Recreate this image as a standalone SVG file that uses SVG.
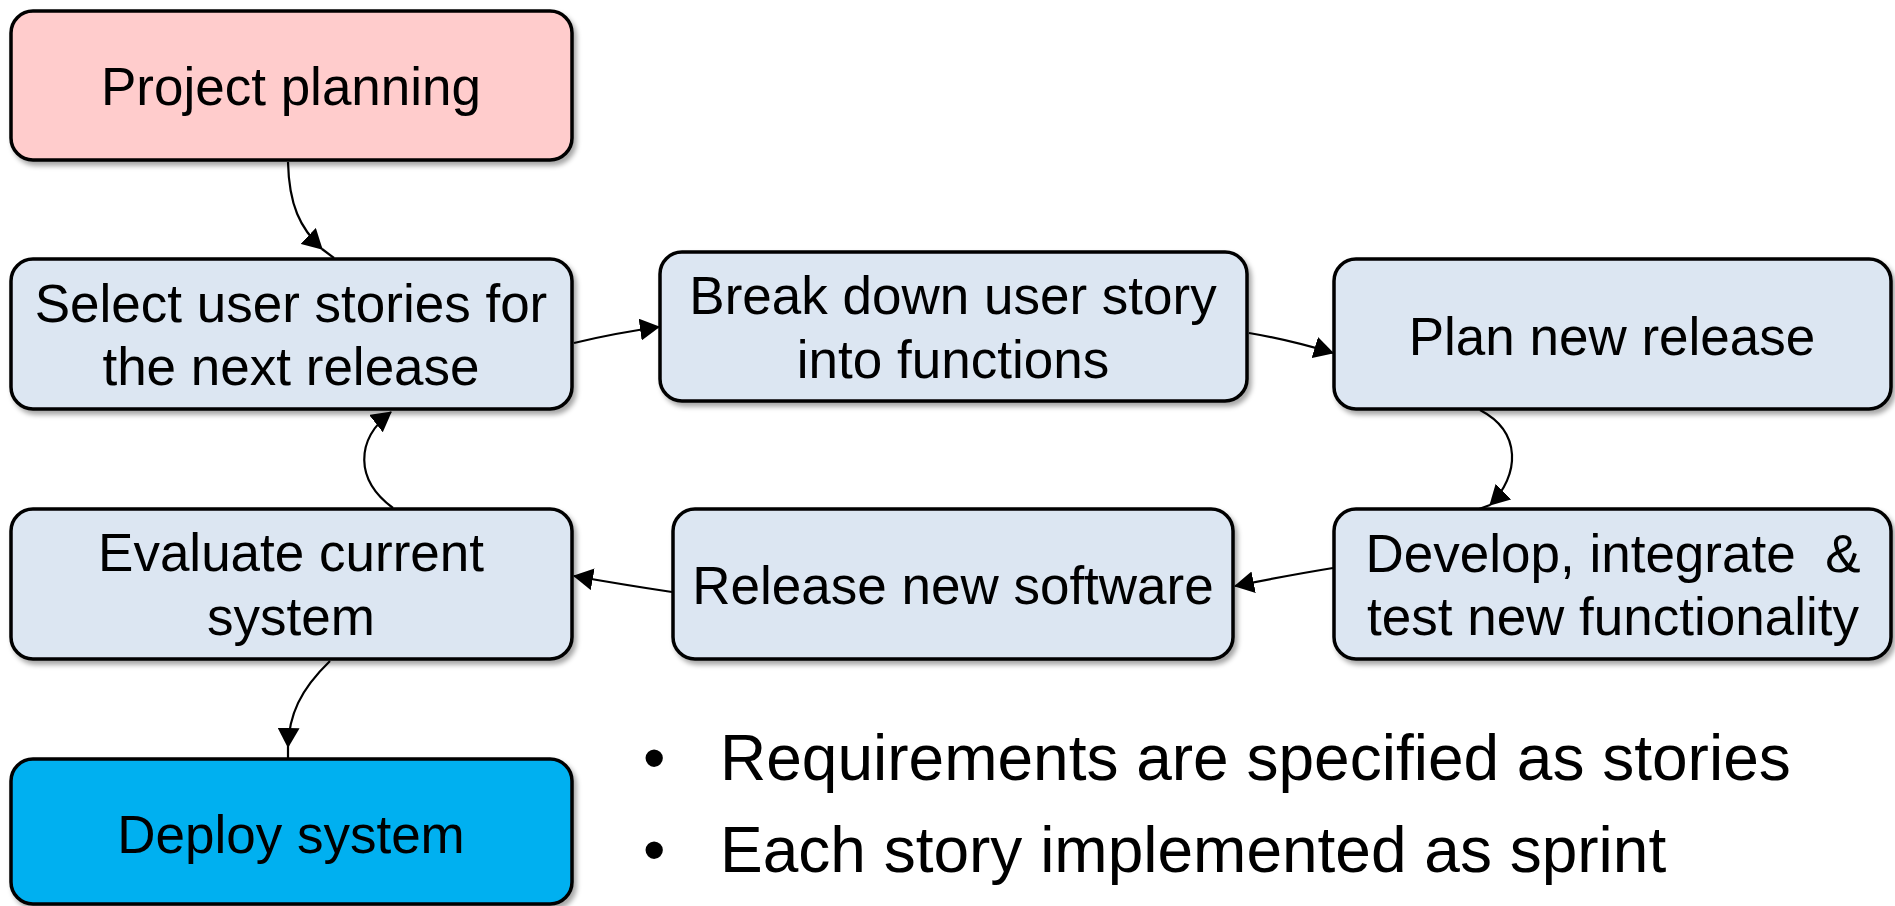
<svg xmlns="http://www.w3.org/2000/svg" width="1895" height="906" viewBox="0 0 1895 906">
<style>
.box{stroke:#000;stroke-width:3.5}
.blue{fill:#DCE6F2}
.pink{fill:#FFCCCC}
.deploy{fill:#00B0F0}
.lbl{font-family:"Liberation Sans",Arial,sans-serif;font-size:53px;fill:#000;text-anchor:middle}
.bul{font-family:"Liberation Sans",Arial,sans-serif;font-size:64px;fill:#000}
.con{fill:none;stroke:#000;stroke-width:2.2}
</style>
<defs>
<filter id="sh" x="-5%" y="-5%" width="115%" height="120%">
<feDropShadow dx="3" dy="4" stdDeviation="2.5" flood-color="#000" flood-opacity="0.35"/>
</filter>
<marker id="ah" markerUnits="userSpaceOnUse" markerWidth="20" markerHeight="22" viewBox="0 0 20 22" refX="19" refY="11" orient="auto">
<path d="M0,0 L20,11 L0,22 z" fill="#000"/>
</marker>
</defs>
<rect width="1895" height="906" fill="#fff"/>
<g id="connectors">
<path class="con" d="M288,162 C289,205 300,228 322,249" marker-end="url(#ah)"/>
<path class="con" d="M322,249 L334,258"/>
<path class="con" d="M574,343 Q615,333 659,327" marker-end="url(#ah)"/>
<path class="con" d="M1249,333 Q1290,340 1333,353" marker-end="url(#ah)"/>
<path class="con" d="M1480,410 C1522,432 1520,475 1490,505" marker-end="url(#ah)"/>
<path class="con" d="M1490,505 L1479,509"/>
<path class="con" d="M1333,568 Q1290,575 1235,586" marker-end="url(#ah)"/>
<path class="con" d="M672,592 Q625,585 574,576" marker-end="url(#ah)"/>
<path class="con" d="M393,508 C355,480 355,440 391,412" marker-end="url(#ah)"/>
<path class="con" d="M330,661 C300,690 289,715 288,747" marker-end="url(#ah)"/>
<path class="con" d="M288,747 L288,758"/>
</g>
<g id="project-planning">
<rect class="box pink" x="11" y="11" width="561" height="149" rx="22" filter="url(#sh)"/>
<text class="lbl" x="291" y="105">Project planning</text>
</g>
<g id="select-user-stories">
<rect class="box blue" x="11" y="259" width="561" height="150" rx="22" filter="url(#sh)"/>
<text class="lbl" x="291" y="322">Select user stories for</text>
<text class="lbl" x="291" y="385">the next release</text>
</g>
<g id="break-down">
<rect class="box blue" x="660" y="252" width="587" height="149" rx="22" filter="url(#sh)"/>
<text class="lbl" x="953" y="314">Break down user story</text>
<text class="lbl" x="953" y="378">into functions</text>
</g>
<g id="plan-new-release">
<rect class="box blue" x="1334" y="259" width="557" height="150" rx="22" filter="url(#sh)"/>
<text class="lbl" x="1612" y="355">Plan new release</text>
</g>
<g id="develop">
<rect class="box blue" x="1334" y="509" width="557" height="150" rx="22" filter="url(#sh)"/>
<text class="lbl" x="1613" y="572" style="white-space:pre" xml:space="preserve">Develop, integrate  &amp;</text>
<text class="lbl" x="1613" y="635">test new functionality</text>
</g>
<g id="release-new-software">
<rect class="box blue" x="673" y="509" width="560" height="150" rx="22" filter="url(#sh)"/>
<text class="lbl" x="953" y="604">Release new software</text>
</g>
<g id="evaluate-current-system">
<rect class="box blue" x="11" y="509" width="561" height="150" rx="22" filter="url(#sh)"/>
<text class="lbl" x="291" y="571">Evaluate current</text>
<text class="lbl" x="291" y="635">system</text>
</g>
<g id="deploy-system">
<rect class="box deploy" x="11" y="759" width="561" height="145" rx="22" filter="url(#sh)"/>
<text class="lbl" x="291" y="853">Deploy system</text>
</g>
<g id="bullets">
<text class="bul" x="643" y="780">•</text>
<text class="bul" x="720" y="780">Requirements are specified as stories</text>
<text class="bul" x="643" y="872">•</text>
<text class="bul" x="720" y="872">Each story implemented as sprint</text>
</g>
</svg>
